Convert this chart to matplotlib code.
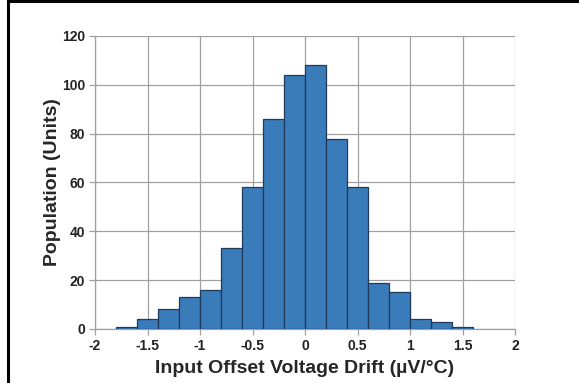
import numpy as np
import matplotlib
matplotlib.use("Agg")
import matplotlib.pyplot as plt
from matplotlib.lines import Line2D

# datos del histograma
bin_edges = [-1.8, -1.6, -1.4, -1.2, -1.0, -0.8, -0.6, -0.4, -0.2, 0.0,
             0.2, 0.4, 0.6, 0.8, 1.0, 1.2, 1.4, 1.6]
counts = [1, 4, 8, 13, 16, 33, 58, 86, 104, 108, 78, 58, 19, 15, 4, 3, 1]
xticks = [-2, -1.5, -1, -0.5, 0, 0.5, 1, 1.5, 2]
xticklabels = ["-2", "-1.5", "-1", "-0.5", "0", "0.5", "1", "1.5", "2"]
yticks = [0, 20, 40, 60, 80, 100, 120]

plt.rcParams['font.family'] = ['Liberation Sans', 'DejaVu Sans']

fig = plt.figure(figsize=(5.79, 3.83), dpi=100)
ax = fig.add_axes([95/579, 54/383, 420/579, 293/383])

lefts = np.array(bin_edges[:-1])
widths = np.diff(bin_edges)
ax.bar(lefts, counts, width=widths, align='edge', color='#3a7bb9',
       edgecolor='#1f3a5a', linewidth=0.9, zorder=3)

ax.set_xlim(-2, 2)
ax.set_ylim(0, 120)
ax.set_xticks(xticks)
ax.set_xticklabels(xticklabels)
ax.set_yticks(yticks)
ax.grid(True, color='#a0a0a0', linewidth=0.9, zorder=0)
for s in ['top', 'right']:
    ax.spines[s].set_visible(False)
for s in ['left', 'bottom']:
    ax.spines[s].set_color('#a0a0a0')
    ax.spines[s].set_linewidth(0.9)
ax.tick_params(axis='both', direction='out', length=4, width=0.9,
               color='#a0a0a0', labelsize=10, labelcolor='#222222', pad=3)
for lab in ax.get_xticklabels() + ax.get_yticklabels():
    lab.set_fontweight('bold')

ax.set_xlabel("Input Offset Voltage Drift (µV/°C)", fontsize=14,
              fontweight='bold', color='#262626', labelpad=5)
ax.set_ylabel("Population (Units)", fontsize=14, fontweight='bold',
              color='#262626', labelpad=1)

# marco negro izquierdo y superior
fig.add_artist(Line2D([8/579, 8/579], [0, 1], color='black', linewidth=2.2,
                      transform=fig.transFigure))
fig.add_artist(Line2D([8/579, 1], [1 - 1/383, 1 - 1/383], color='black',
                      linewidth=2.2, transform=fig.transFigure))

plt.savefig("out.png", dpi=100)
